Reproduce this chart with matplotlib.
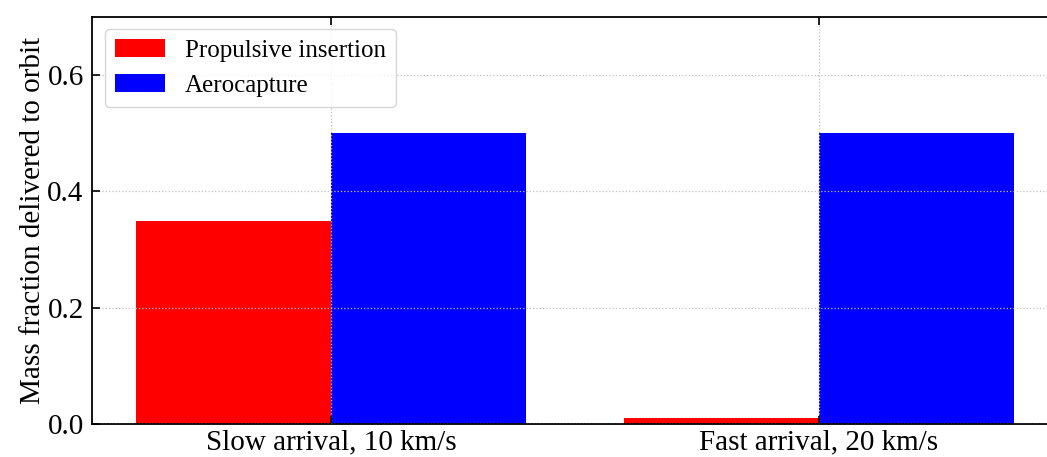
import numpy as np
import matplotlib
matplotlib.use('Agg')
import matplotlib.pyplot as plt

categories = ['Slow arrival, 10 km/s', 'Fast arrival, 20 km/s']
propulsive = [0.35, 0.01]
aerocapture = [0.50, 0.50]

plt.rcParams['font.family'] = ['Liberation Serif', 'DejaVu Serif']
plt.rcParams['xtick.direction'] = 'in'
plt.rcParams['ytick.direction'] = 'in'

fig = plt.figure(figsize=(10.47, 4.57), dpi=100)
# axes run past the right edge, as in the cropped original
ax = fig.add_axes([0.0879, 0.072, 1058 / 1047 - 0.0879, 0.891])

x = np.arange(len(categories))
w = 0.4
ax.bar(x - w / 2, propulsive, w, color='red', label='Propulsive insertion')
ax.bar(x + w / 2, aerocapture, w, color='blue', label='Aerocapture')

ax.set_ylim(0, 0.7)
ax.set_xticks(x)
ax.set_xticklabels(categories)
ax.set_yticks([0.0, 0.2, 0.4, 0.6])
ax.set_ylabel('Mass fraction delivered to orbit', fontsize=21, labelpad=1)
ax.tick_params(labelsize=21, top=True, right=True, length=6, width=1.2)
ax.tick_params(axis='y', pad=6)
ax.tick_params(axis='x', pad=4)
ax.grid(True, linestyle=':', color='#c0c0c0', linewidth=0.9)
ax.set_axisbelow(False)
for s in ax.spines.values():
    s.set_linewidth(1.3)
ax.spines['right'].set_visible(False)

ax.legend(loc='upper left', fontsize=18, frameon=True)

fig.savefig('out.png', dpi=100)
